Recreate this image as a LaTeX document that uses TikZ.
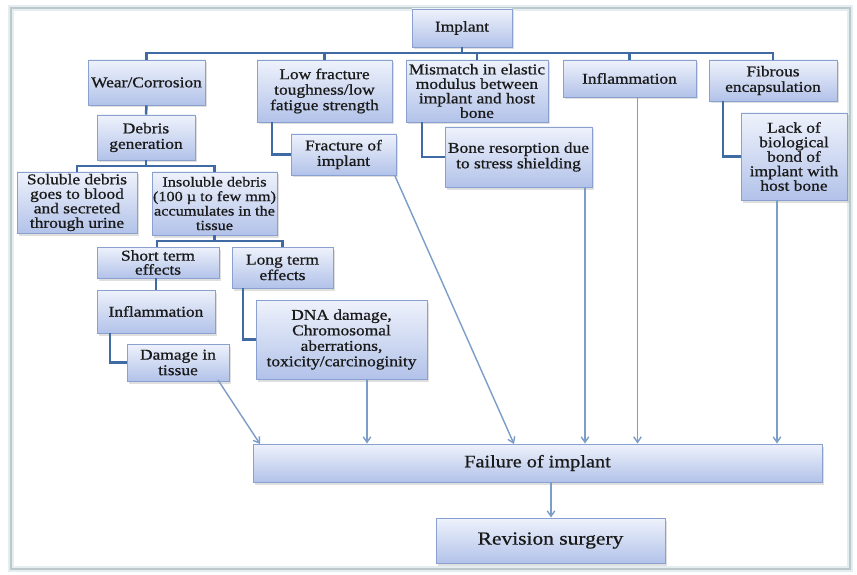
\documentclass[tikz,border=0pt]{standalone}
\usepackage{fontspec}
\setmainfont{Liberation Serif}[FakeStretch=1.16, FakeBold=0.8]
\usetikzlibrary{arrows.meta,shadows}
\definecolor{boxtop}{HTML}{EEF2FB}
\definecolor{boxbot}{HTML}{B2C2E9}
\definecolor{boxline}{HTML}{8AA1D0}
\definecolor{busc}{HTML}{3F6AA3}
\definecolor{arrc}{HTML}{7C9DC8}
\definecolor{framec}{HTML}{BCC8C9}
\definecolor{glowc}{HTML}{E4EEF0}
\definecolor{txt}{HTML}{1A1A1A}
\tikzset{
  box/.style={draw=boxline, line width=0.9pt, top color=boxtop, bottom color=boxbot,
    drop shadow={opacity=0.25, shadow xshift=2pt, shadow yshift=-2.5pt},
    align=center, inner sep=0pt, text=txt, font=\fontsize{15}{15.5}\selectfont},
  bus/.style={draw=busc, line width=2.5pt},
  arr/.style={draw=arrc, line width=1.4pt, -{Straight Barb[length=5.5pt,width=7.5pt]}}
}
\begin{document}
\begin{tikzpicture}[x=1pt,y=-1pt]
\useasboundingbox (0,0) rectangle (857,575);
\fill[white] (0,0) rectangle (857,575);
% frame
\draw[glowc, line width=6pt] (11,8) rectangle (850,569);
\draw[framec, line width=2.2pt] (11,8) rectangle (850,569);

% top row
\node[box, minimum width=100pt, minimum height=38pt] (implant) at (462,28) {Implant};
\node[box, minimum width=117pt, minimum height=45pt] (wear) at (146.5,82.5) {Wear/Corrosion};
\node[box, minimum width=135pt, minimum height=62pt] (lowfrac) at (324.5,91) {Low fracture\\toughness/low\\fatigue strength};
\node[box, minimum width=142pt, minimum height=62pt, font=\fontsize{15}{14.5}\selectfont] (mismatch) at (477,91) {Mismatch in elastic\\modulus between\\implant and host\\bone};
\node[box, minimum width=133pt, minimum height=37pt] (inflamtop) at (629.5,78.5) {Inflammation};
\node[box, minimum width=128pt, minimum height=41pt] (fibrous) at (773,80.5) {Fibrous\\encapsulation};

% second level
\node[box, minimum width=98pt, minimum height=45pt] (debris) at (146,137.5) {Debris\\generation};
\node[box, minimum width=105pt, minimum height=41pt] (fracture) at (343.5,154.5) {Fracture of\\implant};
\node[box, minimum width=147pt, minimum height=60pt] (bone) at (518.5,157) {Bone resorption due\\to stress shielding};
\node[box, minimum width=106pt, minimum height=87pt, font=\fontsize{15}{14.5}\selectfont] (lack) at (794,156.5) {Lack of\\biological\\bond of\\implant with\\host bone};

% debris children
\node[box, minimum width=120pt, minimum height=61pt, font=\fontsize{15}{14.5}\selectfont] (soluble) at (77,202.5) {Soluble debris\\goes to blood\\and secreted\\through urine};
\node[box, minimum width=125pt, minimum height=63pt, font=\fontsize{14}{14.5}\selectfont] (insoluble) at (214.5,203.5) {Insoluble debris\\(100 µ to few mm)\\accumulates in the\\tissue};

\node[box, minimum width=122pt, minimum height=31pt, font=\fontsize{15}{14}\selectfont] (short) at (158,262.5) {Short term\\effects};
\node[box, minimum width=101pt, minimum height=41pt] (long) at (282.5,267.5) {Long term\\effects};
\node[box, minimum width=118pt, minimum height=43pt] (inflamlow) at (156,311.5) {Inflammation};
\node[box, minimum width=171pt, minimum height=79pt] (dna) at (341.5,339.5) {DNA damage,\\Chromosomal\\aberrations,\\toxicity/carcinoginity};
\node[box, minimum width=102pt, minimum height=37pt] (damage) at (178,362.5) {Damage in\\tissue};

% bottom
\node[box, minimum width=569pt, minimum height=38pt, font=\fontsize{17.5}{19}\selectfont] (failure) at (537.5,463) {Failure of implant};
\node[box, minimum width=229pt, minimum height=45pt, font=\fontsize{18.5}{20}\selectfont] (revision) at (550.5,540.5) {Revision surgery};

% tree connectors
\coordinate (b1) at (0,53);
\draw[bus] (wear.north) -- (wear.north |- b1) -- (fibrous.north |- b1) -- (fibrous.north);
\draw[bus] (implant.south) -- (implant.south |- b1);
\draw[bus] (lowfrac.north) -- (lowfrac.north |- b1);
\draw[bus] (mismatch.north) -- (mismatch.north |- b1);
\draw[bus] (inflamtop.north) -- (inflamtop.north |- b1);

\draw[bus] (wear.south) -- (debris.north);
\coordinate (b2) at (0,166);
\draw[bus] (debris.south) -- (debris.south |- b2);
\draw[bus] (soluble.north) -- (soluble.north |- b2) -- (insoluble.north |- b2) -- (insoluble.north);

\coordinate (b3) at (0,241);
\draw[bus] (insoluble.south) -- (insoluble.south |- b3);
\draw[bus] ([xshift=-1pt]short.north) -- ([xshift=-1pt]short.north |- b3) -- (long.north |- b3) -- (long.north);
\draw[bus] ([xshift=-2pt]short.south) -- ([xshift=-2pt]inflamlow.north -| short.south);

\draw[bus] ([xshift=-46pt]inflamlow.south) |- (damage.west);
\draw[bus] ([xshift=-39.5pt]long.south) |- (dna.west);
\draw[bus] ([xshift=-52.5pt]lowfrac.south) |- (fracture.west);
\draw[bus] ([xshift=-55pt]mismatch.south) |- (bone.west);
\draw[bus] ([xshift=-50pt]fibrous.south) |- (lack.west);

% arrows to failure
\coordinate (d1) at (218,380);
\coordinate (f1) at (260,444);
\draw[arr] (d1) -- (f1);
\draw[arr] ([xshift=25.5pt]dna.south) -- ([xshift=25.5pt]dna.south |- failure.north);
\coordinate (fr1) at (395,176);
\coordinate (f2) at (514,444);
\draw[arr] (fr1) -- (f2);
\draw[arr] ([xshift=66.5pt]bone.south) -- ([xshift=66.5pt]bone.south |- failure.north);
\draw[arr] ([xshift=8pt]inflamtop.south) -- ([xshift=8pt]inflamtop.south |- failure.north);
\draw[arr] ([xshift=-17pt]lack.south) -- ([xshift=-17pt]lack.south |- failure.north);
\draw[arr] ([xshift=13.5pt]failure.south) -- ([xshift=13.5pt]failure.south |- revision.north);
\end{tikzpicture}
\end{document}
